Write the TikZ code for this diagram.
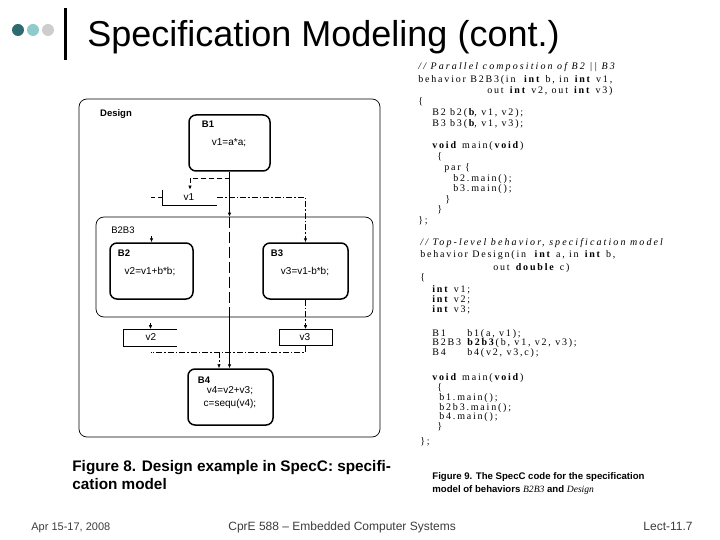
\documentclass[tikz,border=0pt]{standalone}
\usepackage{fontspec}
\setmainfont{Liberation Sans}
\newfontfamily\codefont[LetterSpace=18]{Liberation Serif}
\newfontfamily\capserif{Liberation Serif}
\usetikzlibrary{arrows.meta,positioning}
\definecolor{dotdark}{HTML}{2E6B6E}
\definecolor{dotmid}{HTML}{8FCBCD}
\definecolor{dotlight}{HTML}{CDCDCD}
\definecolor{footgray}{HTML}{3C3C3C}
\tikzset{
  behbox/.style={draw, line width=1.5pt, rounded corners=7pt, minimum height=56pt, inner sep=0pt},
  groupbox/.style={draw, line width=0.7pt, rounded corners=8pt, inner sep=0pt},
  varbox/.style={inner sep=0pt, minimum width=53pt, minimum height=16pt},
  blabel/.style={font=\bfseries\fontsize{9.5}{11}\selectfont, inner sep=0pt},
  stmt/.style={font=\fontsize{10}{12}\selectfont, inner sep=0pt},
  codeln/.style={anchor=base west, inner sep=0pt, font=\codefont\fontsize{10}{11}\selectfont},
  comment/.style={codeln, font=\codefont\fontsize{10}{11}\selectfont\itshape\addfontfeature{LetterSpace=21}},
  footer/.style={inner sep=0pt, text=footgray, font=\fontsize{11}{13}\selectfont},
  shortdash/.style={dash pattern=on 5pt off 3pt},
  longdash/.style={dash pattern=on 11pt off 4pt},
  dashdot/.style={dash pattern=on 6pt off 2pt on 1.5pt off 2pt},
}
\begin{document}
\begin{tikzpicture}[x=1pt,y=-1pt,line width=0.8pt,>={Latex[length=4pt,width=3.6pt]}]
\useasboundingbox (0,0) rectangle (720,540);
% title bar
\fill[dotdark] (18,30) circle (6);
\fill[dotmid] (33,30) circle (6);
\fill[dotlight] (48,30) circle (6);
\fill (64,8) rectangle (67,60);
\node[anchor=base west, inner sep=0pt, font=\fontsize{36}{40}\selectfont] (title) at (87,47) {Specification Modeling (cont.)};
% Figure 8: behaviors
\node[groupbox, minimum width=301pt, minimum height=338pt] (design) at (229.5,268) {};
\node[blabel] (designlbl) at (116,114) {Design};
\node[behbox, minimum width=81pt] (B1) at (229.5,143) {};
\node[blabel] (B1lbl) at (208,124) {B1};
\node[stmt] (B1txt) at (229,143) {v1=a*a;};
\node[groupbox, minimum width=277pt, minimum height=100pt] (B2B3) at (234.5,267) {};
\node[blabel, font=\fontsize{9.5}{11}\selectfont] (B2B3lbl) at (123,230) {B2B3};
\node[behbox, minimum width=83pt] (B2) at (151.5,271) {};
\node[blabel] (B2lbl) at (124,253) {B2};
\node[stmt] (B2txt) at (150,272) {v2=v1+b*b;};
\node[behbox, minimum width=85pt] (B3) at (305.5,271) {};
\node[blabel] (B3lbl) at (277,253) {B3};
\node[stmt] (B3txt) at (305,272) {v3=v1-b*b;};
\node[behbox, minimum width=85pt] (B4) at (230.5,397) {};
\node[blabel] (B4lbl) at (204,380) {B4};
\node[stmt] (B4txt) at (230,391) {v4=v2+v3;};
\node[stmt] (B4txtb) at (230,404) {c=sequ(v4);};
% variables
\node[varbox, minimum width=54pt, minimum height=15pt] (v1) at (190,197.5) {};
\node[stmt] (v1lbl) at (189,197) {v1};
\draw (v1.north west) -- (v1.south west) -- (v1.south east);
\node[varbox] (v2) at (150.5,337.5) {};
\node[stmt] (v2lbl) at (151,337) {v2};
\draw (v2.north east) -- (v2.north west) -- (v2.south west) -- (v2.south east);
\node[varbox, draw] (v3) at (305.5,337.5) {};
\node[stmt] (v3lbl) at (305,337) {v3};
% control flow
\draw[->] (B1.south) -- (B1.south |- B2B3.north);
\draw[longdash] (B1.south |- B2B3.north) -- (B1.south |- B2B3.south);
\draw[->] (B1.south |- B2B3.south) -- (B1.south |- B4.north);
% data flow
\coordinate (tap) at (229.5,178);
\draw[shortdash,->] (tap) -| (v1.north);
\draw[shortdash] (v1.west) -- ++(-12,0);
\draw[dashdot,->] (v1.east) -| (B3.north);
\draw[->] ([yshift=6pt]B2.north) -- (B2.north);
\draw[->] ([yshift=6pt]v2.north) -- (v2.north);
\draw[dashdot,->] (B3.south) -- (v3.north);
\coordinate (join) at (219,352);
\draw[dashdot] (v3.south) |- (v2.south |- join);
\draw[dashdot,->] (join) -- (join |- B4.north);
% Figure 9: SpecC code
\node[comment] (p1) at (418,70) {// Parallel composition of B2 || B3};
\node[codeln] (p2) at (418,83) {behavior B2B3(in\ \ \textbf{int} b, in \textbf{int} v1,};
\node[codeln] (p3) at (487,94) {out \textbf{int} v2, out \textbf{int} v3)};
\node[codeln] (p4) at (418,105) {\{};
\node[codeln] (p5) at (432,116) {B2 b2(\textbf{b}, v1, v2);};
\node[codeln] (p6) at (432,127) {B3 b3(\textbf{b}, v1, v3);};
\node[codeln] (p7) at (432,149) {\textbf{void} main(\textbf{void})};
\node[codeln] (p8) at (437,160) {\{};
\node[codeln] (p9) at (444,171) {par \{};
\node[codeln] (p10) at (453,182) {b2.main();};
\node[codeln] (p11) at (453,192) {b3.main();};
\node[codeln] (p12) at (445,203) {\}};
\node[codeln] (p13) at (437,213) {\}};
\node[codeln] (p14) at (418,224) {\};};
\node[comment] (d1) at (420,245) {// Top-level behavior, specification model};
\node[codeln] (d2) at (420,258) {behavior Design(in\ \ \textbf{int} a, in \textbf{int} b,};
\node[codeln] (d3) at (493,270) {out \textbf{double} c)};
\node[codeln] (d4) at (420,280) {\{};
\node[codeln] (d5) at (432,292) {\textbf{int} v1;};
\node[codeln] (d6) at (432,302) {\textbf{int} v2;};
\node[codeln] (d7) at (432,312) {\textbf{int} v3;};
\node[codeln] (d8) at (432,336) {B1};
\node[codeln] (d8b) at (467,336) {b1(a, v1);};
\node[codeln] (d9) at (432,345) {B2B3};
\node[codeln] (d9b) at (467,345) {\textbf{b2b3}(b, v1, v2, v3);};
\node[codeln] (d10) at (432,355) {B4};
\node[codeln] (d10b) at (467,355) {b4(v2, v3,c);};
\node[codeln] (d11) at (432,380) {\textbf{void} main(\textbf{void})};
\node[codeln] (d12) at (437,390) {\{};
\node[codeln] (d13) at (439,400) {b1.main();};
\node[codeln] (d14) at (439,410) {b2b3.main();};
\node[codeln] (d15) at (439,419) {b4.main();};
\node[codeln] (d16) at (437,429) {\}};
\node[codeln] (d17) at (420,444) {\};};
% captions
\node[anchor=base west, inner sep=0pt, font=\bfseries\fontsize{15.3}{18}\selectfont] (cap8a) at (72,471) {Figure 8. Design example in SpecC: specifi-};
\node[anchor=base west, inner sep=0pt, font=\bfseries\fontsize{15.3}{18}\selectfont] (cap8b) at (72,489) {cation model};
\node[anchor=base west, inner sep=0pt, font=\bfseries\fontsize{9.6}{11}\selectfont] (cap9a) at (432,479) {Figure 9. The SpecC code for the specification};
\node[anchor=base west, inner sep=0pt, font=\bfseries\fontsize{9.6}{11}\selectfont] (cap9b) at (432,492) {model of behaviors {\capserif\mdseries\itshape B2B3} and {\capserif\mdseries\itshape Design}};
% footer
\node[footer, anchor=base west] (date) at (31,530) {Apr 15-17, 2008};
\node[footer, anchor=base west, font=\fontsize{12}{14}\selectfont] (course) at (228,530) {CprE 588 -- Embedded Computer Systems};
\node[footer, anchor=base west, font=\fontsize{12}{14}\selectfont] (lect) at (643,530) {Lect-11.7};
\end{tikzpicture}
\end{document}
